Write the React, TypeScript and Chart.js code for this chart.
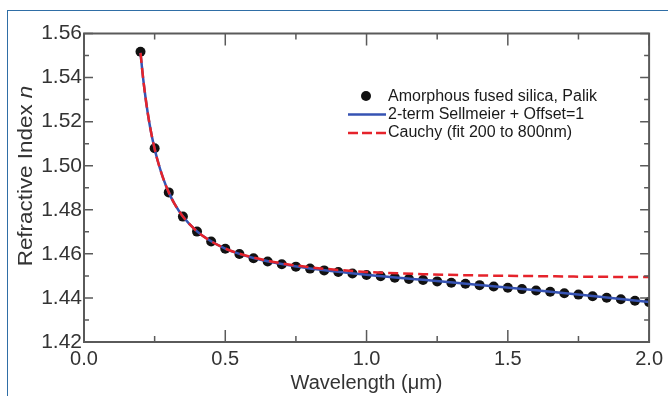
import React, { useEffect, useRef } from "react";
import { Chart, registerables } from "chart.js";

Chart.register(...registerables);

// ---- data ----
const palikWl = [0.2, 0.25, 0.3, 0.35, 0.4, 0.45, 0.5, 0.55, 0.6, 0.65, 0.7, 0.75, 0.8, 0.85, 0.9, 0.95,
  1.0, 1.05, 1.1, 1.15, 1.2, 1.25, 1.3, 1.35, 1.4, 1.45, 1.5, 1.55, 1.6, 1.65, 1.7, 1.75, 1.8, 1.85, 1.9, 1.95, 2.0];
const palikN = [1.5517, 1.5079, 1.4879, 1.4769, 1.4701, 1.4656, 1.4623, 1.4599, 1.4580, 1.4565, 1.4553, 1.4542,
  1.4533, 1.4525, 1.4518, 1.4511, 1.4504, 1.4498, 1.4492, 1.4486, 1.4481, 1.4475, 1.4469, 1.4464, 1.4458, 1.4452,
  1.4446, 1.4440, 1.4434, 1.4428, 1.4421, 1.4415, 1.4408, 1.4401, 1.4394, 1.4387, 1.4381];

const sellWl = [0.2, 0.21, 0.22, 0.23, 0.24, 0.25, 0.26, 0.28, 0.3, 0.32, 0.35, 0.4, 0.45, 0.5, 0.55, 0.6, 0.7, 0.8,
  0.9, 1.0, 1.2, 1.4, 1.6, 1.8, 2.0];
const sellN = [1.5512, 1.5388, 1.5288, 1.5204, 1.5135, 1.5077, 1.5026, 1.4944, 1.4879, 1.4828, 1.4770, 1.4702,
  1.4657, 1.4624, 1.4600, 1.4581, 1.4554, 1.4534, 1.4519, 1.4505, 1.4482, 1.4459, 1.4435, 1.4409, 1.4381];

const cauchyWl = [0.2, 0.21, 0.22, 0.23, 0.24, 0.25, 0.26, 0.28, 0.3, 0.32, 0.35, 0.4, 0.45, 0.5, 0.55, 0.6, 0.7,
  0.8, 0.9, 1.0, 1.2, 1.4, 1.6, 1.8, 2.0];
const cauchyN = [1.5512, 1.5388, 1.5288, 1.5204, 1.5135, 1.5077, 1.5026, 1.4944, 1.4879, 1.4828, 1.4770, 1.4702,
  1.4657, 1.4624, 1.4601, 1.4583, 1.4557, 1.4539, 1.4527, 1.4518, 1.4508, 1.4502, 1.4499, 1.4496, 1.4495];

const xMin = 0, xMax = 2.0, xStep = 0.5, xMinorStep = 0.25;
const yMin = 1.42, yMax = 1.56, yStep = 0.02, yMinorStep = 0.01;

const legendLabels = ["Amorphous fused silica, Palik", "2-term Sellmeier + Offset=1", "Cauchy (fit 200 to 800nm)"];
const xTitle = "Wavelength (μm)";
const yTitle = "Refractive Index ";
const yTitleItalic = "n";

const FONT = '"Liberation Sans", Arial, Helvetica, sans-serif';
const BLUE = "#3653b3";
const RED = "#e5232b";
const DOT = "#111111";
const AXIS = "#5a5a5a";
const TEXT = "#333333";

const decor = {
  id: "decor",
  afterDraw(chart: any) {
    const ctx = chart.ctx;
    const a = chart.chartArea;
    const x = chart.scales.x;
    const y = chart.scales.y;
    ctx.save();
    // frame
    ctx.strokeStyle = AXIS;
    ctx.lineWidth = 2;
    ctx.strokeRect(a.left, a.top, a.right - a.left, a.bottom - a.top);
    // ticks
    ctx.lineWidth = 1.5;
    ctx.beginPath();
    const nx = Math.round((xMax - xMin) / xMinorStep);
    for (let i = 0; i <= nx; i++) {
      const v = xMin + i * xMinorStep;
      const px = x.getPixelForValue(v);
      const L = i % 2 === 0 ? 12 : 6;
      ctx.moveTo(px, a.bottom);
      ctx.lineTo(px, a.bottom - L);
      ctx.moveTo(px, a.top);
      ctx.lineTo(px, a.top + L);
    }
    const ny = Math.round((yMax - yMin) / yMinorStep);
    for (let i = 0; i <= ny; i++) {
      const v = yMin + i * yMinorStep;
      const py = y.getPixelForValue(v);
      const L = i % 2 === 0 ? 9 : 5;
      ctx.moveTo(a.left, py);
      ctx.lineTo(a.left + L, py);
      ctx.moveTo(a.right, py);
      ctx.lineTo(a.right - L, py);
    }
    ctx.stroke();

    // x title
    ctx.fillStyle = TEXT;
    ctx.font = `20px ${FONT}`;
    ctx.textAlign = "center";
    ctx.textBaseline = "middle";
    ctx.fillText(xTitle, (a.left + a.right) / 2, 383);

    // y title (normal + italic n)
    ctx.save();
    ctx.translate(26, 176);
    ctx.rotate(-Math.PI / 2);
    ctx.scale(1.12, 1);
    ctx.textAlign = "left";
    ctx.font = `20px ${FONT}`;
    const w1 = ctx.measureText(yTitle).width;
    ctx.font = `italic 20px ${FONT}`;
    const w2 = ctx.measureText(yTitleItalic).width;
    const start = -(w1 + w2) / 2;
    ctx.font = `20px ${FONT}`;
    ctx.fillText(yTitle, start, 0);
    ctx.font = `italic 20px ${FONT}`;
    ctx.fillText(yTitleItalic, start + w1, 0);
    ctx.restore();

    // legend
    const lx = 348, lx2 = 386, tx = 388, ly = 96, rowH = 18.5;
    ctx.font = `16px ${FONT}`;
    ctx.textAlign = "left";
    ctx.textBaseline = "middle";
    ctx.beginPath();
    ctx.fillStyle = DOT;
    ctx.arc(366, ly, 5, 0, Math.PI * 2);
    ctx.fill();
    ctx.fillStyle = "#1a1a1a";
    ctx.fillText(legendLabels[0], tx, ly + 1);
    ctx.strokeStyle = BLUE;
    ctx.lineWidth = 2.5;
    ctx.setLineDash([]);
    ctx.beginPath();
    ctx.moveTo(lx, ly + rowH);
    ctx.lineTo(lx2, ly + rowH);
    ctx.stroke();
    ctx.fillText(legendLabels[1], tx, ly + rowH);
    ctx.strokeStyle = RED;
    ctx.setLineDash([10, 4]);
    ctx.beginPath();
    ctx.moveTo(lx, ly + 2 * rowH);
    ctx.lineTo(lx2, ly + 2 * rowH);
    ctx.stroke();
    ctx.setLineDash([]);
    ctx.fillText(legendLabels[2], tx, ly + 2 * rowH);
    ctx.restore();
  },
};

export default function App() {
  const ref = useRef<HTMLCanvasElement | null>(null);
  useEffect(() => {
    if (!ref.current) return;
    const chart = new Chart(ref.current, {
      type: "scatter",
      data: {
        datasets: [
          {
            label: legendLabels[2],
            data: cauchyWl.map((w, i) => ({ x: w, y: cauchyN[i] })),
            showLine: true,
            borderColor: RED,
            borderWidth: 2.5,
            borderDash: [10, 5],
            pointRadius: 0,
            cubicInterpolationMode: "monotone",
            order: 0,
          },
          {
            label: legendLabels[1],
            data: sellWl.map((w, i) => ({ x: w, y: sellN[i] })),
            showLine: true,
            borderColor: BLUE,
            borderWidth: 2.5,
            pointRadius: 0,
            cubicInterpolationMode: "monotone",
            order: 1,
          },
          {
            label: legendLabels[0],
            data: palikWl.map((w, i) => ({ x: w, y: palikN[i] })),
            showLine: false,
            pointRadius: 5,
            pointBackgroundColor: DOT,
            pointBorderColor: DOT,
            pointBorderWidth: 0,
            order: 2,
          },
        ],
      },
      options: {
        responsive: false,
        animation: false,
        devicePixelRatio: 1,
        layout: { padding: { left: 0, right: 17, top: 33.5, bottom: 0 } },
        plugins: { legend: { display: false }, tooltip: { enabled: false } },
        scales: {
          x: {
            type: "linear",
            min: xMin,
            max: xMax,
            grid: { display: false, drawTicks: false },
            border: { display: false },
            ticks: {
              stepSize: xStep,
              padding: 5,
              color: TEXT,
              font: { family: FONT, size: 20 },
              callback: (v: any) => Number(v).toFixed(1),
            },
            afterFit: (s: any) => { s.height = 54; },
          },
          y: {
            type: "linear",
            min: yMin,
            max: yMax,
            grid: { display: false, drawTicks: false },
            border: { display: false },
            ticks: {
              stepSize: yStep,
              padding: 2,
              color: TEXT,
              font: { family: FONT, size: 21 },
              callback: (v: any) => Number(v).toFixed(2),
            },
            afterFit: (s: any) => { s.width = 84; },
          },
        },
      },
      plugins: [decor],
    });
    return () => chart.destroy();
  }, []);
  return (
    <div style={{ position: "fixed", left: 0, top: 0, width: 668, height: 396, background: "#fff", overflow: "hidden" }}>
      <canvas ref={ref} width={668} height={396} style={{ display: "block", position: "absolute", left: 0, top: 0 }} />
      <div
        style={{
          position: "absolute",
          left: 7,
          top: 10,
          width: 700,
          height: 420,
          borderLeft: "1.5px solid #2f6ea6",
          borderTop: "1.5px solid #2f6ea6",
          pointerEvents: "none",
        }}
      />
    </div>
  );
}
